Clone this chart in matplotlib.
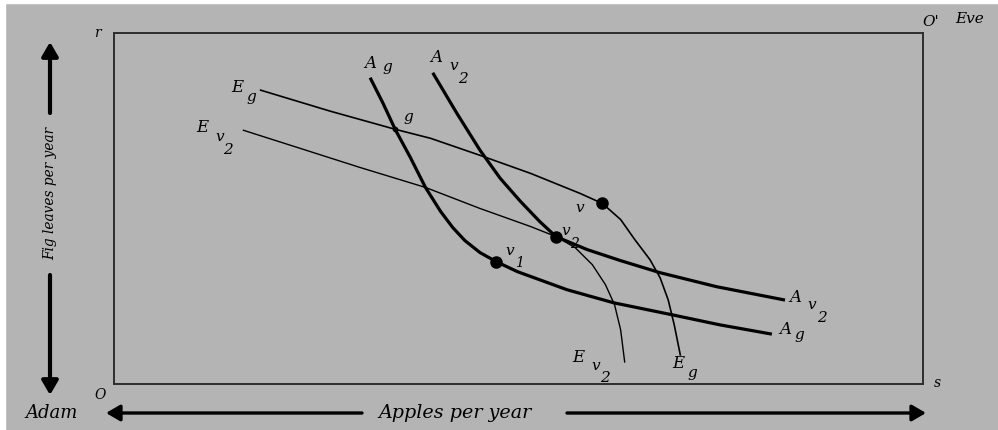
import matplotlib.pyplot as plt
from matplotlib.patches import Rectangle, FancyArrowPatch

# Edgeworth box: apples (x, 0..80) and fig leaves (y, 0..35), Adam at O, Eve at O'
eg_x = [14.5, 21.4, 27.8, 31.3, 36.2, 41.2, 46.1, 48.3, 50.1, 51.5, 53.0, 54.0, 54.8, 55.4, 56.0]
eg_y = [29.3, 27.2, 25.4, 24.5, 22.8, 21.0, 19.0, 18.0, 16.4, 14.4, 12.4, 10.6, 8.4, 5.9, 2.9]

ev2_x = [12.8, 18.4, 24.3, 30.8, 36.2, 41.2, 43.7, 45.6, 47.3, 48.6, 49.5, 50.1, 50.5]
ev2_y = [25.3, 23.5, 21.6, 19.6, 17.5, 15.7, 14.7, 13.6, 11.9, 9.9, 7.9, 5.4, 2.2]

ag_x = [25.4, 26.6, 27.8, 29.3, 30.8, 32.3, 33.5, 34.7, 36.2, 37.8, 39.9, 44.8, 49.4, 55.2, 59.9, 64.9]
ag_y = [30.4, 28.0, 25.4, 22.6, 19.6, 17.2, 15.6, 14.3, 13.1, 12.2, 11.2, 9.4, 8.1, 6.9, 5.9, 5.0]

av2_x = [31.6, 33.9, 36.2, 38.2, 40.2, 42.1, 43.7, 46.8, 50.1, 54.0, 59.6, 66.2]
av2_y = [30.9, 27.0, 23.3, 20.5, 18.2, 16.2, 14.7, 13.4, 12.3, 11.1, 9.7, 8.4]

# marked allocations: g, v (on Eg), v2, v1
pts_x = [27.8, 48.3, 43.7, 37.8]
pts_y = [25.4, 18.0, 14.7, 12.2]
pts_size = [3, 8, 8, 8]

bg = "#b4b4b4"
fig = plt.figure(figsize=(9.98, 4.30), dpi=100, facecolor=bg, edgecolor=bg)
fig.patches.append(Rectangle((0, 1 - 3 / 430), 1, 3 / 430, transform=fig.transFigure, color="white", zorder=0))
fig.patches.append(Rectangle((0, 0), 5 / 998, 1, transform=fig.transFigure, color="white", zorder=0))

ax = fig.add_axes([114 / 998, 46 / 430, 809 / 998, 351 / 430])
ax.set_facecolor(bg)
ax.set_xlim(0, 80)
ax.set_ylim(0, 35)
ax.set_xticks([])
ax.set_yticks([])
for sp in ax.spines.values():
    sp.set_color("#2e2e2e")
    sp.set_linewidth(1.4)

ax.plot(eg_x, eg_y, color="black", lw=1.2)
ax.plot(ev2_x, ev2_y, color="black", lw=1.0)
ax.plot(ag_x, ag_y, color="black", lw=2.3)
ax.plot(av2_x, av2_y, color="black", lw=2.3)
for x, y, s in zip(pts_x, pts_y, pts_size):
    ax.plot(x, y, "o", color="black", ms=s)

font = dict(family="DejaVu Serif", style="italic", color="black", ha="center", va="center")


def label(x, y, s, size=12, **kw):
    # x, y given in figure pixels from top-left
    fig.text(x / 998, 1 - y / 430, s, fontsize=size, **font, **kw)


# curve labels
label(237, 88, "E"); label(251, 97, "g", 11)
label(202, 128, "E"); label(220, 137, "v", 11); label(228, 150, "2", 11)
label(370, 63, "A"); label(387, 67, "g", 11)
label(436, 58, "A"); label(454, 66, "v", 11); label(463, 79, "2", 11)
label(408, 117, "g", 11)
label(580, 208, "v", 11)
label(566, 231, "v", 11); label(574, 244, "2", 10)
label(510, 251, "v", 11); label(519, 263, "1", 10)
label(578, 358, "E"); label(596, 366, "v", 11); label(605, 378, "2", 11)
label(678, 363, "E"); label(692, 373, "g", 11)
label(795, 297, "A"); label(812, 305, "v", 11); label(822, 318, "2", 11)
label(785, 330, "A"); label(799, 335, "g", 11)

# corners and axis captions
label(97, 33, "r", 10)
label(937, 383, "s", 10)
label(100, 395, "O", 10)
label(931, 22, "O'", 11)
label(970, 19, "Eve", 11)
label(52, 413, "Adam", 13)
label(455, 413, "Apples per year", 13.8)
label(50, 193, "Fig leaves per year", 9.8, rotation=90)


def arrow(x0, y0, x1, y1, lw):
    a = FancyArrowPatch((x0 / 998, 1 - y0 / 430), (x1 / 998, 1 - y1 / 430), transform=fig.transFigure,
                        arrowstyle="-|>,head_length=0.6,head_width=0.35", mutation_scale=14,
                        color="black", lw=lw, shrinkA=0, shrinkB=0)
    fig.add_artist(a)


arrow(50, 113, 50, 42, 3.0)
arrow(50, 275, 50, 395, 3.0)
arrow(362, 413, 106, 413, 2.4)
arrow(567, 413, 926, 413, 2.4)

fig.savefig("out.png", dpi=100, facecolor=bg, edgecolor=bg)
